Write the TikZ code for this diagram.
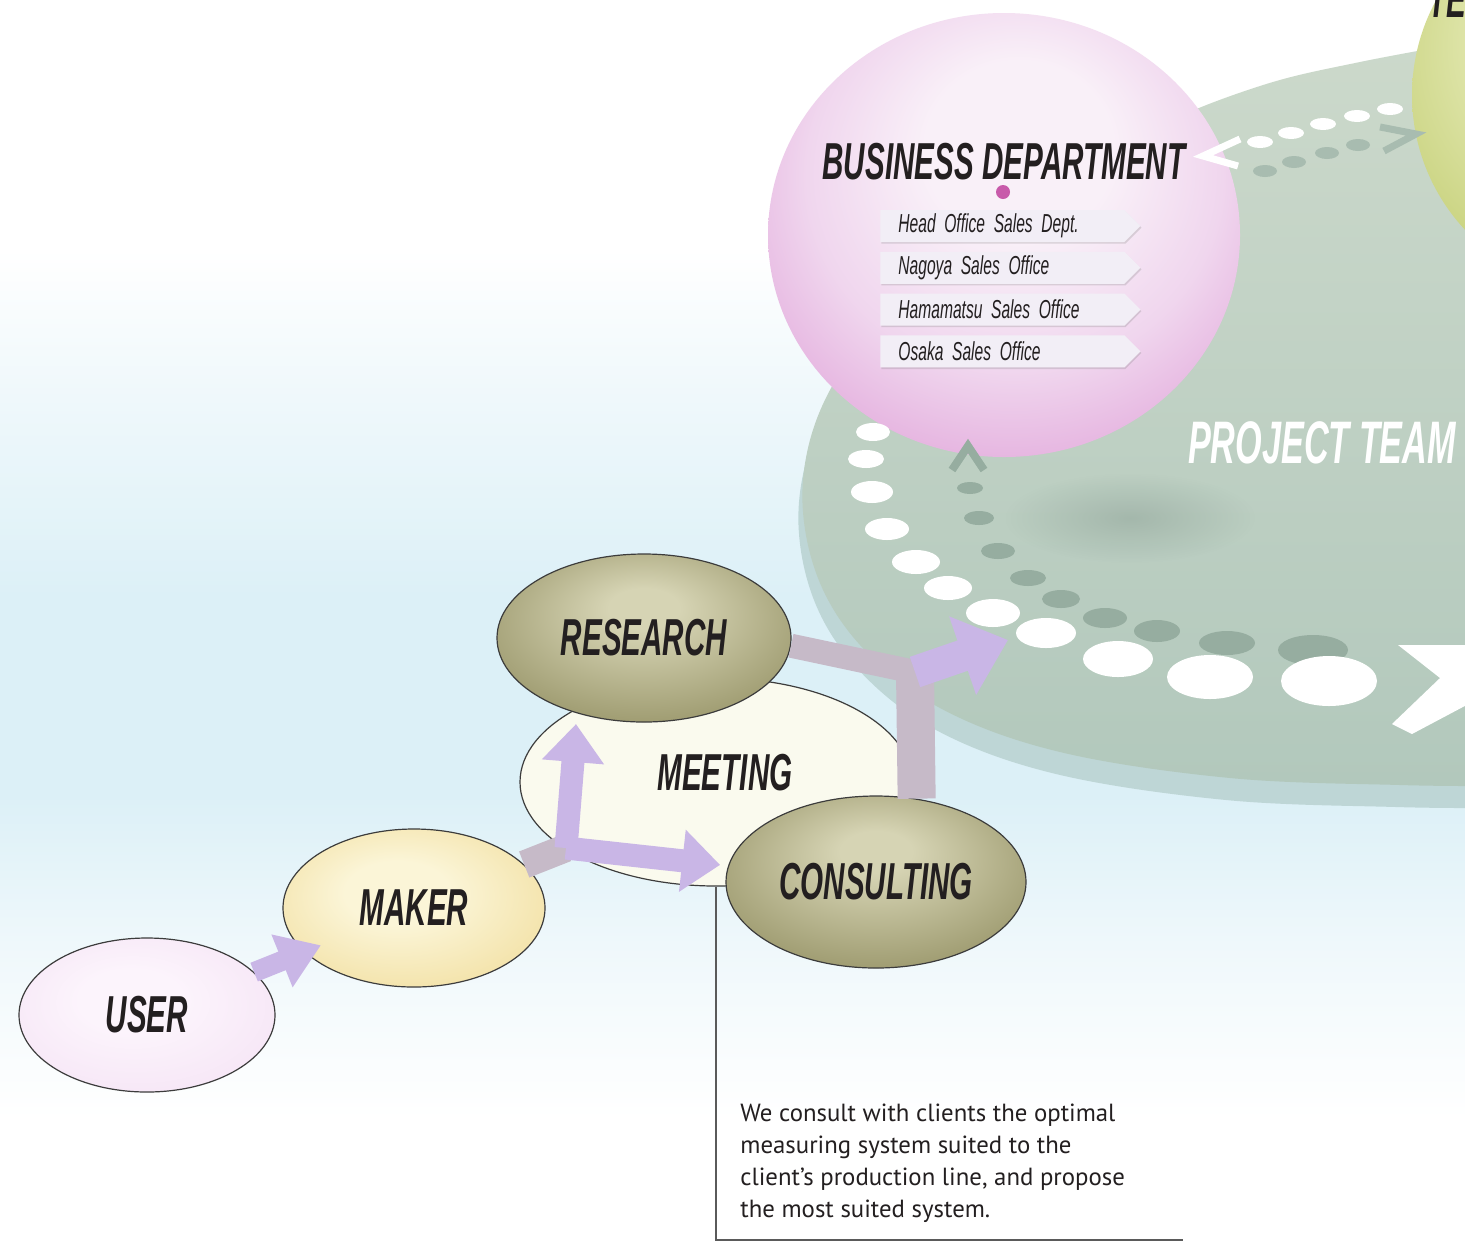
\documentclass[tikz,border=0pt]{standalone}
\usepackage{fontspec}
\newfontfamily\headfont{Liberation Sans}[FakeStretch=0.57]
\newfontfamily\tagfont{Liberation Sans}[FakeStretch=0.6]
\newfontfamily\bodyfont{PT Sans}
\usepackage{tikz}
\usetikzlibrary{arrows.meta,positioning,shapes.geometric,shapes.symbols,fadings,shadows}

\newcommand{\headtype}[1]{\headfont\bfseries\itshape\fontsize{#1}{#1}\selectfont}
\newcommand{\tagtype}{\tagfont\itshape\fontsize{13}{14}\selectfont}

\definecolor{skyband}{RGB}{220,240,247}
\definecolor{skypale}{RGB}{239,248,251}
\definecolor{disctop}{RGB}{204,217,203}
\definecolor{discbot}{RGB}{178,200,188}
\definecolor{discrim}{RGB}{190,214,214}
\definecolor{blobgray}{RGB}{130,150,140}
\definecolor{dotgray}{RGB}{150,173,160}
\definecolor{dotgraylight}{RGB}{168,188,176}
\definecolor{pinkhi}{RGB}{249,240,248}
\definecolor{pinkmid}{RGB}{240,214,238}
\definecolor{pinklo}{RGB}{225,166,218}
\definecolor{greenhi}{RGB}{236,240,196}
\definecolor{greenlo}{RGB}{200,210,125}
\definecolor{olivehi}{RGB}{214,212,180}
\definecolor{olivelo}{RGB}{158,155,112}
\definecolor{makerhi}{RGB}{251,245,215}
\definecolor{makerlo}{RGB}{243,226,168}
\definecolor{userhi}{RGB}{252,244,252}
\definecolor{userlo}{RGB}{246,230,246}
\definecolor{meetfill}{RGB}{250,250,238}
\definecolor{flowlav}{RGB}{201,182,230}
\definecolor{stemgray}{RGB}{198,186,200}
\definecolor{inkdark}{RGB}{35,31,32}
\definecolor{tagfill}{RGB}{242,238,246}
\definecolor{bizdot}{RGB}{200,90,170}
\definecolor{bubbleline}{RGB}{60,60,60}
\definecolor{leadergray}{RGB}{90,90,90}

\pgfdeclareverticalshading{skyfade}{100bp}{color(0bp)=(white); color(30bp)=(white); color(37bp)=(skypale); color(43bp)=(skyband); color(51bp)=(skyband); color(59bp)=(skypale); color(65bp)=(white); color(100bp)=(white)}
\pgfdeclareradialshading{pinkball}{\pgfpoint{2bp}{12bp}}{color(0bp)=(pinkhi); color(10bp)=(pinkhi); color(22bp)=(pinkmid); color(34bp)=(pinklo); color(50bp)=(pinklo)}
\pgfdeclareradialshading{greenball}{\pgfpoint{-2bp}{10bp}}{color(0bp)=(greenhi); color(8bp)=(greenhi); color(30bp)=(greenlo); color(50bp)=(greenlo)}
\pgfdeclareradialshading{oliveball}{\pgfpoint{0bp}{10bp}}{color(0bp)=(olivehi); color(6bp)=(olivehi); color(30bp)=(olivelo); color(50bp)=(olivelo)}
\pgfdeclareradialshading{makerball}{\pgfpoint{-4bp}{6bp}}{color(0bp)=(makerhi); color(10bp)=(makerhi); color(30bp)=(makerlo); color(50bp)=(makerlo)}
\pgfdeclareradialshading{userball}{\pgfpoint{-4bp}{6bp}}{color(0bp)=(userhi); color(10bp)=(userhi); color(30bp)=(userlo); color(50bp)=(userlo)}
\tikzfading[name=softblob, inner color=transparent!60, outer color=transparent!100]

\begin{document}
\begin{tikzpicture}[x=0.5pt, y=-0.5pt,
    headtext/.style={font=\headtype{26}, text=inkdark},
    bubble/.style={ellipse, draw=bubbleline, line width=0.6pt, inner sep=0pt, headtext},
    tagbox/.style={signal, signal to=east, signal pointer angle=90, fill=tagfill,
        minimum width=129pt, minimum height=16pt, inner xsep=9pt, inner ysep=0pt,
        text width=104pt, align=left, font=\tagtype,
        text=inkdark, drop shadow={shadow xshift=0.5pt, shadow yshift=-0.8pt, opacity=0.25}},
    flowarrow/.style={draw=flowlav, line width=11.5pt, -{Triangle[length=19pt,width=30pt]}},
    flowstem/.style={draw=stemgray, line width=13pt},
    chevron/.style={line width=4pt, line join=miter},
    discedge/.style={insert path={plot[smooth, tension=0.6] coordinates {(1490,38) (1360,62) (1260,86) (1150,130) (1020,205) (900,300) (830,390) (803,480) (815,570) (860,645) (940,708) (1060,752) (1230,778) (1400,785) (1490,786)}}},
    leader/.style={draw=leadergray, line width=0.6pt}
]
\useasboundingbox (0,0) rectangle (1465,1243);
\clip (0,0) rectangle (1465,1243);

% backdrop
\shade[shading=skyfade] (0,0) rectangle (1465,1243);

% project team disc
\fill[discrim, shift={(-4,22)}, discedge] -- cycle;
\shade[top color=disctop, bottom color=discbot, discedge] -- cycle;
\fill[blobgray, path fading=softblob] (1130,518) ellipse [x radius=125, y radius=45];

% departments
\shade[shading=greenball] (1610,95) circle [radius=198];
\shade[shading=pinkball] (1004,235) ellipse [x radius=236, y radius=222];

% dotted paths on the disc
\foreach \x/\y/\rx/\ry in {970/488/13/6, 979/518/15/7, 998/551/17/8, 1028/578/18/8, 1061/599/19/9, 1105/618/22/10, 1157/631/23/11, 1227/643/28/12, 1313/650/35/15}
    \fill[dotgray] (\x,\y) ellipse [x radius=\rx, y radius=\ry];
\foreach \x/\y/\rx/\ry in {873/432/17/9, 866/459/18/9, 872/492/21/11, 887/529/22/11, 916/562/24/12, 948/588/24/12, 993/613/27/14, 1046/633/30/15, 1118/659/35/18, 1210/677/43/22, 1329/681/48/25}
    \fill[white] (\x,\y) ellipse [x radius=\rx, y radius=\ry];
\foreach \x/\y in {1265/171, 1294/162, 1327/153, 1358/145}
    \fill[dotgraylight] (\x,\y) ellipse [x radius=12, y radius=6];
\foreach \x/\y in {1260/142, 1291/133, 1323/124, 1357/116, 1390/109}
    \fill[white] (\x,\y) ellipse [x radius=13, y radius=6];
\draw[chevron, dotgray] (952,470) -- (968,446) -- (984,470);
\draw[chevron, white, line width=3.5pt] (1240,139) -- (1203,156) -- (1238,166);
\draw[chevron, dotgraylight, line width=3.5pt] (1380,127) -- (1416,134) -- (1384,151);
\fill[white] (1398,645) -- (1475,645) -- (1510,682) -- (1412,734) -- (1392,724) -- (1440,678) -- cycle;

% labels
\node[headtext] (bizhead) at (1004,162) {BUSINESS DEPARTMENT};
\node[circle, fill=bizdot, minimum size=7pt, inner sep=0pt] (bizdot) at (1003,192) {};
\node[tagbox, anchor=west] (tag1) at (880,226) {Head Office Sales Dept.};
\node[tagbox, below=4.5pt of tag1] (tag2) {Nagoya Sales Office};
\node[tagbox, below=4.5pt of tag2] (tag3) {Hamamatsu Sales Office};
\node[tagbox, below=4.5pt of tag3] (tag4) {Osaka Sales Office};
\node[headtext, text=white, font=\headtype{30}] (teamhead) at (1322,443) {PROJECT TEAM};
\node[headtext, anchor=base west] (techhead) at (1421,17) {TEC};

% flow bubbles
\node[bubble, shade, shading=userball, minimum width=128pt, minimum height=77pt] (user) at (147,1015) {USER};
\node[bubble, shade, shading=makerball, minimum width=131pt, minimum height=79pt] (maker) at (414,908) {MAKER};
\node[bubble, fill=meetfill, minimum width=196pt, minimum height=104pt] (meeting) at (716,782) {};
\node[headtext] (meetname) at (725,773) {MEETING};
\node[bubble, shade, shading=oliveball, minimum width=147pt, minimum height=84pt] (research) at (644,638) {RESEARCH};
\node[bubble, shade, shading=oliveball, minimum width=150pt, minimum height=86pt] (consult) at (876,882) {CONSULTING};

% arrows
\coordinate (j1) at (566,848);
\coordinate (rtip) at (576,724);
\coordinate (j2) at (915,672);
\coordinate (ptip) at (1008,640);
\draw[flowarrow, line width=10pt, -{Triangle[length=21pt,width=27pt]}, shorten >=-9pt] (user) -- (maker);
\draw[flowstem, line width=14pt] (maker) -- (j1);
\draw[flowarrow] (j1) -- (rtip);
\draw[flowarrow, shorten >=4pt] (j1) -- (consult);
\draw[flowstem, line width=12pt] (research.-3) -- (j2);
\draw[flowstem, line width=19pt] (consult.64) -- (j2);
\draw[flowarrow, line width=16pt, -{Triangle[length=24pt,width=40pt]}] (j2) -- (ptip);

% note
\coordinate (noteend) at (1183,1240);
\draw[leader] (meeting.south) |- (noteend);
\node[anchor=north west, inner sep=0pt, align=left, text=inkdark, font=\bodyfont\fontsize{12.4}{16}\selectfont] (note) at (740,1104)
    {We consult with clients the optimal\\measuring system suited to the\\client’s production line, and propose\\the most suited system.};
\end{tikzpicture}
\end{document}
